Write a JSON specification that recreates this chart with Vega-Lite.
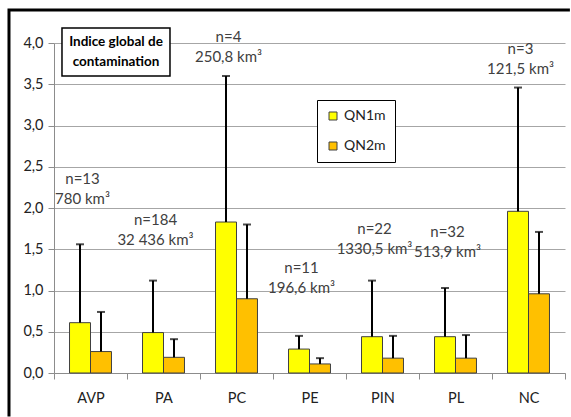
{
  "$schema": "https://vega.github.io/schema/vega-lite/v6.json",
  "width": 511,
  "height": 330,
  "autosize": {"type": "none"},
  "padding": {"left": 54, "top": 43, "right": 6, "bottom": 44},
  "background": "white",
  "config": {"view": {"stroke": null}, "font": "Lato"},
  "datasets": {
    "bars": [
      {"cat": "AVP", "series": "QN1m", "value": 0.61, "err": 1.56},
      {"cat": "AVP", "series": "QN2m", "value": 0.26, "err": 0.74},
      {"cat": "PA", "series": "QN1m", "value": 0.49, "err": 1.12},
      {"cat": "PA", "series": "QN2m", "value": 0.19, "err": 0.41},
      {"cat": "PC", "series": "QN1m", "value": 1.83, "err": 3.6},
      {"cat": "PC", "series": "QN2m", "value": 0.9, "err": 1.8},
      {"cat": "PE", "series": "QN1m", "value": 0.29, "err": 0.45},
      {"cat": "PE", "series": "QN2m", "value": 0.11, "err": 0.18},
      {"cat": "PIN", "series": "QN1m", "value": 0.44, "err": 1.12},
      {"cat": "PIN", "series": "QN2m", "value": 0.18, "err": 0.45},
      {"cat": "PL", "series": "QN1m", "value": 0.44, "err": 1.03},
      {"cat": "PL", "series": "QN2m", "value": 0.18, "err": 0.46},
      {"cat": "NC", "series": "QN1m", "value": 1.96, "err": 3.46},
      {"cat": "NC", "series": "QN2m", "value": 0.96, "err": 1.71}
    ],
    "notes": [
      {"cat": "AVP", "ypos": 2.35, "label": "n=13\n780 km³"},
      {"cat": "PA", "ypos": 1.86, "label": "n=184\n32 436 km³"},
      {"cat": "PC", "ypos": 4.07, "label": "n=4\n250,8 km³"},
      {"cat": "PE", "ypos": 1.27, "label": "n=11\n196,6 km³"},
      {"cat": "PIN", "ypos": 1.74, "label": "n=22\n1330,5 km³"},
      {"cat": "PL", "ypos": 1.71, "label": "n=32\n513,9 km³"},
      {"cat": "NC", "ypos": 3.93, "label": "n=3\n121,5 km³"}
    ],
    "frame": [{"cat": "PE", "ypos": 2.0}],
    "titlebox": [{"cat": "AVP", "ypos": 3.89, "label": "Indice global de\ncontamination"}]
  },
  "encoding": {
    "x": {
      "field": "cat",
      "type": "nominal",
      "title": null,
      "scale": {"domain": ["AVP", "PA", "PC", "PE", "PIN", "PL", "NC"], "paddingInner": 0, "paddingOuter": 0},
      "axis": {
        "tickBand": "extent",
        "grid": false,
        "labelAngle": 0,
        "domainColor": "#8c8c8c",
        "tickColor": "#8c8c8c",
        "tickSize": 6,
        "labelPadding": 12,
        "labelFontSize": 14.5,
        "labelColor": "#222222",
        "labelFont": "Lato"
      }
    },
    "y": {
      "field": "value",
      "type": "quantitative",
      "title": null,
      "scale": {"domain": [0, 4], "nice": false},
      "axis": {
        "values": [0, 0.5, 1, 1.5, 2, 2.5, 3, 3.5, 4],
        "labelExpr": "replace(format(datum.value, '.1f'), '.', ',')",
        "grid": true,
        "gridColor": "#a6a6a6",
        "gridWidth": 1,
        "domain": true,
        "domainColor": "#8c8c8c",
        "tickColor": "#8c8c8c",
        "tickSize": 6,
        "labelPadding": 5,
        "labelFontSize": 14.5,
        "labelColor": "#222222",
        "labelFont": "Lato"
      }
    }
  },
  "layer": [
    {
      "data": {"name": "frame"},
      "mark": {
        "type": "point",
        "shape": "M-10.017,6.95L-10.017,-6.6L8.68,-6.6",
        "size": 3600,
        "filled": false,
        "stroke": "black",
        "strokeWidth": 3,
        "opacity": 1
      },
      "encoding": {
        "y": {"field": "ypos", "type": "quantitative"}
      }
    },
    {
      "data": {"name": "bars"},
      "mark": {"type": "bar", "stroke": "#404040", "strokeWidth": 1},
      "encoding": {
        "xOffset": {"field": "series", "scale": {"paddingInner": 0, "paddingOuter": 0.74}},
        "color": {
          "field": "series",
          "type": "nominal",
          "scale": {"domain": ["QN1m", "QN2m"], "range": ["#FFFF00", "#FFC000"]},
          "legend": {
            "orient": "none",
            "legendX": 263,
            "legendY": 57,
            "title": null,
            "fillColor": "white",
            "strokeColor": "black",
            "padding": 9,
            "symbolType": "square",
            "symbolSize": 64,
            "symbolStrokeColor": "#404040",
            "symbolStrokeWidth": 1,
            "labelFontSize": 14,
            "labelFont": "Lato",
            "labelColor": "#222222",
            "rowPadding": 16,
            "labelOffset": 4
          }
        }
      }
    },
    {
      "data": {"name": "bars"},
      "mark": {"type": "rule", "color": "black", "strokeWidth": 2},
      "encoding": {
        "xOffset": {"field": "series", "scale": {"paddingInner": 0, "paddingOuter": 0.74}},
        "y2": {"field": "err"}
      }
    },
    {
      "data": {"name": "bars"},
      "mark": {"type": "tick", "color": "black", "thickness": 2, "size": 8},
      "encoding": {
        "xOffset": {"field": "series", "scale": {"paddingInner": 0, "paddingOuter": 0.74}},
        "y": {"field": "err", "type": "quantitative"}
      }
    },
    {
      "data": {"name": "notes"},
      "mark": {
        "type": "text",
        "dx": -8,
        "fontSize": 15,
        "lineHeight": 20,
        "lineBreak": "\n",
        "align": "center",
        "baseline": "middle",
        "color": "#404040",
        "font": "Lato"
      },
      "encoding": {
        "y": {"field": "ypos", "type": "quantitative"},
        "text": {"field": "label"}
      }
    },
    {
      "data": {"name": "titlebox"},
      "mark": {
        "type": "point",
        "shape": "M-0.528,-0.444L1.472,-0.444L1.472,0.444L-0.528,0.444Z",
        "size": 11664,
        "filled": true,
        "fill": "white",
        "stroke": "black",
        "strokeWidth": 1.5,
        "opacity": 1
      },
      "encoding": {
        "y": {"field": "ypos", "type": "quantitative"}
      }
    },
    {
      "data": {"name": "titlebox"},
      "mark": {
        "type": "text",
        "lineBreak": "\n",
        "dx": 25.5,
        "dy": -10,
        "fontSize": 13.5,
        "fontWeight": "bold",
        "lineHeight": 20,
        "align": "center",
        "baseline": "middle",
        "color": "black",
        "font": "Lato"
      },
      "encoding": {
        "y": {"field": "ypos", "type": "quantitative"},
        "text": {"field": "label"}
      }
    }
  ]
}
